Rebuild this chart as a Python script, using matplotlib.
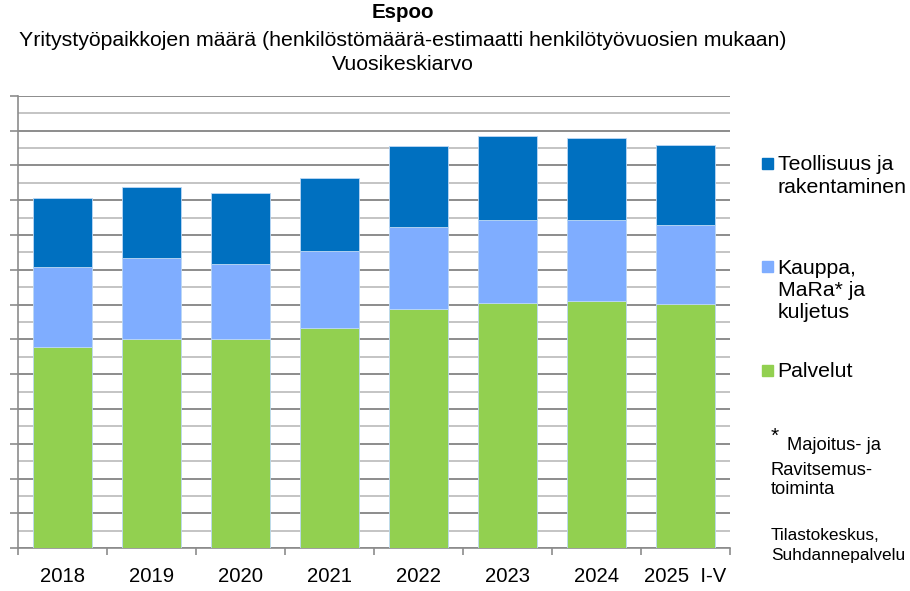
import matplotlib.pyplot as plt
import numpy as np
from matplotlib.patches import Rectangle
from matplotlib.ticker import MultipleLocator, FixedLocator, NullFormatter

plt.rcParams['font.family'] = ['Liberation Sans', 'DejaVu Sans']

vuodet = ['2018', '2019', '2020', '2021', '2022', '2023', '2024', '2025  I-V']
palvelut = [57800, 60100, 60000, 63200, 68700, 70400, 71000, 70100]
kauppa = [22900, 23200, 21600, 22100, 23500, 23800, 23300, 22800]
teollisuus = [19800, 20400, 20600, 21100, 23300, 24300, 23700, 22900]

sarjat = [
    ('Palvelut', palvelut, '#92D050'),
    ('Kauppa,\nMaRa* ja\nkuljetus', kauppa, '#7FADFF'),
    ('Teollisuus ja\nrakentaminen', teollisuus, '#0070C0'),
]

fig = plt.figure(figsize=(9.1, 5.91), dpi=100)
ax = fig.add_axes([0.0201, 0.0723, 0.7819, 0.7657])

x = np.arange(len(vuodet))
pohja = np.zeros(len(vuodet))
for nimi, arvot, vari in sarjat:
    ax.bar(x, arvot, bottom=pohja, width=0.66, color=vari,
           edgecolor='#bcd8f5', linewidth=0.6, zorder=3)
    pohja += np.array(arvot)

ax.set_xlim(-0.5, len(vuodet) - 0.5)
ax.set_ylim(0, 130000)
ax.yaxis.set_major_locator(MultipleLocator(10000))
ax.yaxis.set_minor_locator(MultipleLocator(5000))
ax.yaxis.set_major_formatter(NullFormatter())
ax.grid(which='major', axis='y', color='#8c8c8c', linewidth=1.4, zorder=0)
ax.grid(which='minor', axis='y', color='#c4c4c4', linewidth=1.4, zorder=0)
ax.tick_params(axis='y', which='major', direction='out', length=6,
               color='#8c8c8c', width=1.2)
ax.tick_params(axis='y', which='minor', length=0)

# x: ticks between categories, labels at centres
ax.xaxis.set_major_locator(FixedLocator(np.arange(len(vuodet) + 1) - 0.5))
ax.xaxis.set_major_formatter(NullFormatter())
ax.xaxis.set_minor_locator(FixedLocator(x))
ax.set_xticklabels(vuodet, minor=True)
ax.tick_params(axis='x', which='major', direction='out', length=5,
               color='#8c8c8c', width=1.2)
ax.tick_params(axis='x', which='minor', length=0, pad=13.5, labelsize=14.6)

for s in ['top', 'right']:
    ax.spines[s].set_visible(False)
for s in ['left', 'bottom']:
    ax.spines[s].set_color('#8c8c8c')
    ax.spines[s].set_linewidth(1.2)

xc = 403 / 910
fig.text(xc, 1 - 13 / 591, 'Espoo', ha='center', va='center',
         fontsize=14.8, fontweight='bold')
fig.text(xc, 1 - 40 / 591, 'Yritystyöpaikkojen määrä (henkilöstömäärä-estimaatti henkilötyövuosien mukaan)',
         ha='center', va='center', fontsize=15.3)
fig.text(xc, 1 - 64 / 591, 'Vuosikeskiarvo', ha='center', va='center', fontsize=15.3)

# selite
sel_y = {'Teollisuus ja\nrakentaminen': 163.5, 'Kauppa,\nMaRa* ja\nkuljetus': 266.5,
         'Palvelut': 370}
for nimi, arvot, vari in sarjat:
    yp = sel_y[nimi]
    fig.patches.append(Rectangle((762 / 910, 1 - (yp + 5.5) / 591), 11 / 910, 11 / 591,
                                 transform=fig.transFigure, color=vari))
    fig.text(777.5 / 910, 1 - (yp - 8) / 591, nimi, ha='left', va='top',
             fontsize=15.3, linespacing=1.22)

fig.text(771 / 910, 1 - 427 / 591, '*', ha='left', va='top', fontsize=15)
fig.text(787 / 910, 1 - 437 / 591, 'Majoitus- ja', ha='left', va='top', fontsize=13.2)
fig.text(771 / 910, 1 - 462 / 591, 'Ravitsemus-\ntoiminta', ha='left', va='top',
         fontsize=13.2, linespacing=1.15)
fig.text(771 / 910, 1 - 528 / 591, 'Tilastokeskus,\nSuhdannepalvelu', ha='left', va='top',
         fontsize=12.4, linespacing=1.38)

fig.savefig('out.png', dpi=100)
